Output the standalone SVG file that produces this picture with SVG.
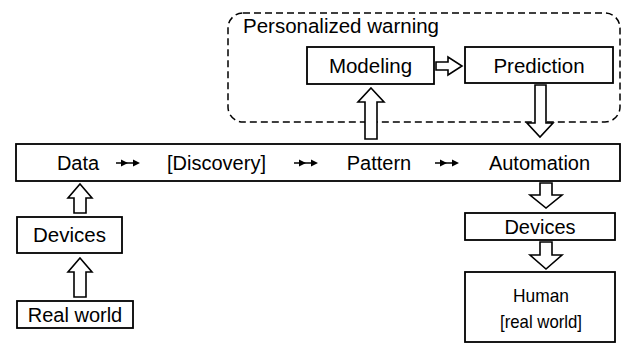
<svg xmlns="http://www.w3.org/2000/svg" width="625" height="346" viewBox="0 0 625 346">
<style>
  .box { fill: #fff; stroke: #000; stroke-width: 1.8; }
  .blk { fill: #fff; stroke: #000; stroke-width: 1.6; stroke-linejoin: miter; }
  .t { font-family: "Liberation Sans", Arial, sans-serif; font-size: 20px; fill: #000; }
  .tm { text-anchor: middle; }
  .dash { fill: none; stroke: #000; stroke-width: 1.5; stroke-dasharray: 7 4; }
  .sm { stroke: #000; stroke-width: 1.5; fill: none; }
</style>
<defs>
  <g id="dbl">
    <path class="sm" d="M0 0 H22"/>
    <path d="M5 -3.5 L12 0 L5 3.5 Z M17 -3.5 L24 0 L17 3.5 Z" fill="#000"/>
  </g>
</defs>
<rect width="625" height="346" fill="#fff"/>

<g id="warning-group">
  <rect class="dash" x="228" y="13" width="392" height="109" rx="15" ry="15"/>
  <text class="t" x="243" y="33" style="font-size:20.5px">Personalized warning</text>
</g>

<g id="modeling">
  <rect class="box" x="307" y="47" width="127" height="37"/>
  <text class="t tm" x="370.5" y="73" style="font-size:20.5px">Modeling</text>
</g>
<g id="prediction">
  <rect class="box" x="465" y="47" width="148" height="36"/>
  <text class="t tm" x="539" y="73" style="font-size:20.5px">Prediction</text>
</g>

<g id="main-bar">
  <rect class="box" x="16" y="144" width="604" height="37"/>
  <text class="t tm" x="78" y="169.5">Data</text>
  <text class="t tm" x="216.5" y="169.5">[Discovery]</text>
  <text class="t tm" x="379" y="169.5">Pattern</text>
  <text class="t tm" x="539.5" y="169.5">Automation</text>
</g>

<g id="devices-left">
  <rect class="box" x="17" y="217" width="105" height="36"/>
  <text class="t tm" x="69.5" y="242" style="font-size:20.5px">Devices</text>
</g>
<g id="real-world">
  <rect class="box" x="17" y="301" width="116" height="27"/>
  <text class="t tm" x="75" y="321.5">Real world</text>
</g>
<g id="devices-right">
  <rect class="box" x="465" y="213" width="150" height="27"/>
  <text class="t tm" x="540" y="233.5">Devices</text>
</g>
<g id="human">
  <rect class="box" x="465" y="272" width="150" height="70"/>
  <text class="t tm" x="541" y="302" style="font-size:19px" textLength="56" lengthAdjust="spacingAndGlyphs">Human</text>
  <text class="t tm" x="541" y="328" style="font-size:19px" textLength="82" lengthAdjust="spacingAndGlyphs">[real world]</text>
</g>

<g id="connectors">
  <use href="#dbl" x="116" y="163"/>
  <use href="#dbl" x="294" y="163"/>
  <use href="#dbl" x="435" y="163"/>
  <!-- Modeling -> Prediction -->
  <polygon class="blk" points="436,62 448,62 448,57 462,66 448,75 448,70 436,70"/>
  <!-- bar -> Modeling -->
  <polygon class="blk" points="371,88 384,102 377,102 377,139 365,139 365,102 358,102"/>
  <!-- Prediction -> bar -->
  <polygon class="blk" points="535,85 546,85 546,123 553,123 540,137 527,123 535,123"/>
  <!-- Devices -> Data -->
  <polygon class="blk" points="80,184 92,198 86,198 86,213 74,213 74,198 68,198"/>
  <!-- Real world -> Devices -->
  <polygon class="blk" points="80,258 92,272 86,272 86,297 74,297 74,272 68,272"/>
  <!-- Automation -> Devices -->
  <polygon class="blk" points="540,183 552,183 552,195 562,195 546,208 530,195 540,195"/>
  <!-- Devices -> Human -->
  <polygon class="blk" points="540,242 552,242 552,255 562,255 546,269 530,255 540,255"/>
</g>
</svg>
